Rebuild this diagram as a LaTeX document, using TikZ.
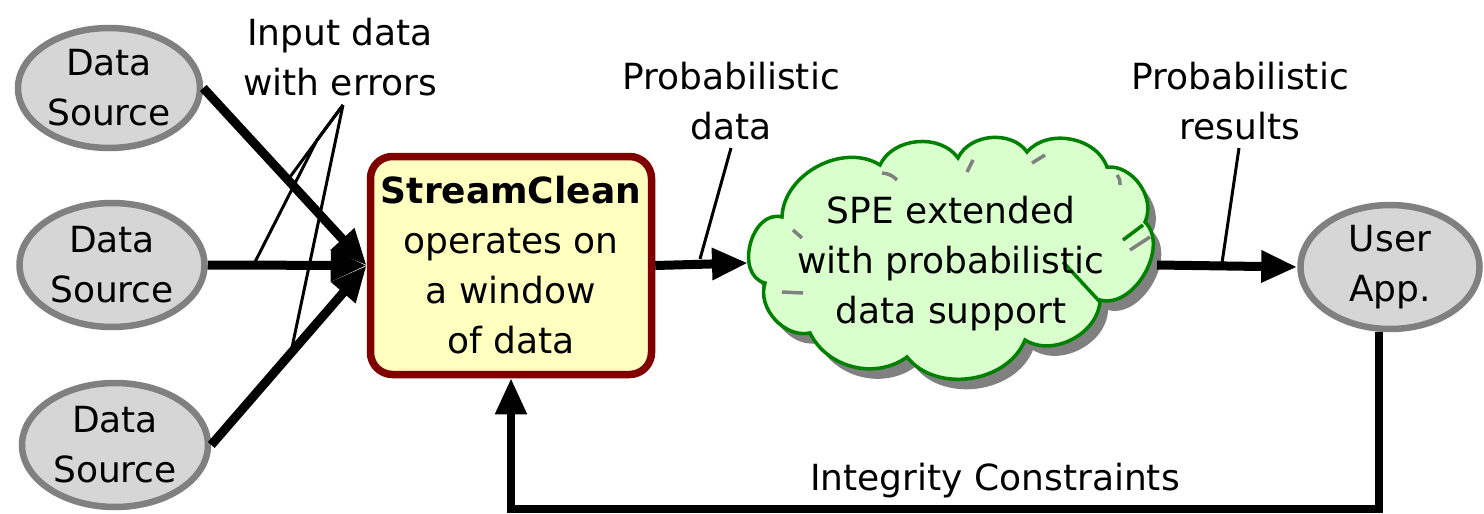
\documentclass[tikz,border=0pt]{standalone}
\usepackage{fontspec}
\setmainfont{DejaVu Sans}
\usetikzlibrary{shapes.geometric,arrows.meta}
\definecolor{srcfill}{RGB}{214,214,214}
\definecolor{srcline}{RGB}{128,128,128}
\definecolor{scline}{RGB}{128,0,0}
\definecolor{scfill}{RGB}{255,255,192}
\definecolor{cloudfill}{RGB}{217,255,204}
\definecolor{cloudline}{RGB}{0,128,0}
\definecolor{shadowgrey}{RGB}{128,128,128}
\newcommand\cloudshape[1]{\path[#1] (782,217) to[bend left=60] (880,165) to[bend left=60] (958,158) to[bend left=60] (1027,152) to[bend left=60] (1107,167) to[bend left=60] (1145,222) to[bend left=75] (1100,300) to[bend left=60] (1025,340) to[bend left=60] (907,357) to[bend left=50] (810,333) to[bend left=60] (765,283) to[bend left=90,looseness=1.2] (782,217) -- cycle;}
\begin{document}
\begin{tikzpicture}[x=1pt,y=-1pt,
  txt/.style={font=\fontsize{36}{50}\selectfont, align=center, inner sep=0pt},
  src/.style={ellipse, draw=srcline, fill=srcfill, line width=6.5pt, txt},
  scbox/.style={rectangle, rounded corners=22pt, draw=scline, fill=scfill, line width=7.5pt, minimum width=281pt, minimum height=218pt, txt},
  arr/.style={line width=9pt, -{Triangle[length=36pt,width=30pt]}},
  fbarr/.style={line width=8pt, -{Triangle[length=36pt,width=30pt]}},
  lead/.style={line width=3pt},
  cloudmark/.style={draw=shadowgrey, line width=3.5pt},
  cloudhook/.style={draw=cloudline, line width=3.5pt}
]
\useasboundingbox (0,0) rectangle (1484,514);

% sources
\node[src, minimum width=182pt, minimum height=120pt] (ds1) at (109,88) {Data\\Source};
\node[src, minimum width=185pt, minimum height=124pt] (ds2) at (112,265) {Data\\Source};
\node[src, minimum width=186pt, minimum height=124pt] (ds3) at (115,445) {Data\\Source};

% StreamClean box
\node[scbox] (sc) at (511,265.5) {{\bfseries StreamClean}\\operates on\\a window\\of data};

% cloud
\begin{scope}[shift={(8,10)}]
\cloudshape{fill=shadowgrey}
\end{scope}
\cloudshape{fill=cloudfill, draw=cloudline, line width=3.5pt}
\path[cloudmark] (882,173) to[bend left=20] (897,180);
\path[cloudmark] (967,172) -- (973,160);
\path[cloudmark] (1032,163) -- (1045,155);
\path[cloudmark] (1117,175) to[bend left=20] (1120,185);
\path[cloudmark] (1130,250) -- (1150,237);
\path[cloudmark] (793,230) -- (802,238);
\path[cloudmark] (782,292) -- (803,293);
\path[cloudhook] (1063,262) -- (1100,302);
\path[cloudhook] (1123,240) -- (1143,225);
\node[txt] (cloudtxt) at (951,264) {SPE extended\\with probabilistic\\data support};
\coordinate (cloudW) at (748,263);
\coordinate (cloudE) at (1157,265);

% user app
\node[src, minimum width=179pt, minimum height=124pt] (ua) at (1390,267) {User\\App.};

% labels
\node[txt] (lin) at (340,57) {Input data\\with errors};
\node[txt] (lpd) at (731,101) {Probabilistic\\data};
\node[txt] (lpr) at (1240,101) {Probabilistic\\results};
\node[txt] (lic) at (995,481) {Integrity Constraints};

% main arrows
\draw[arr] (ds1.east) -- (sc.west);
\draw[arr] (ds2.east) -- (sc.west);
\draw[arr] (ds3.east) -- (sc.west);
\draw[arr] (sc.east) -- (cloudW);
\draw[arr] (cloudE) -- (ua.west);

% feedback
\coordinate (fbR) at (1379,509);
\draw[fbarr] (fbR |- ua.south) -- (fbR) -| (sc.south);

% leader lines
\coordinate (apex) at (343,105);
\coordinate (k1) at (317,140);
\coordinate (e1) at (255,262);
\coordinate (e2) at (290,177);
\coordinate (e3) at (290,357);
\draw[lead] (apex) -- (k1) -- (e1);
\draw[lead] (apex) -- (e2);
\draw[lead] (apex) -- (e3);
\coordinate (pdA) at (731,148);
\coordinate (pdB) at (700,259);
\draw[lead] (pdA) -- (pdB);
\coordinate (prA) at (1239,148);
\coordinate (prB) at (1222,263);
\draw[lead] (prA) -- (prB);
\end{tikzpicture}
\end{document}
